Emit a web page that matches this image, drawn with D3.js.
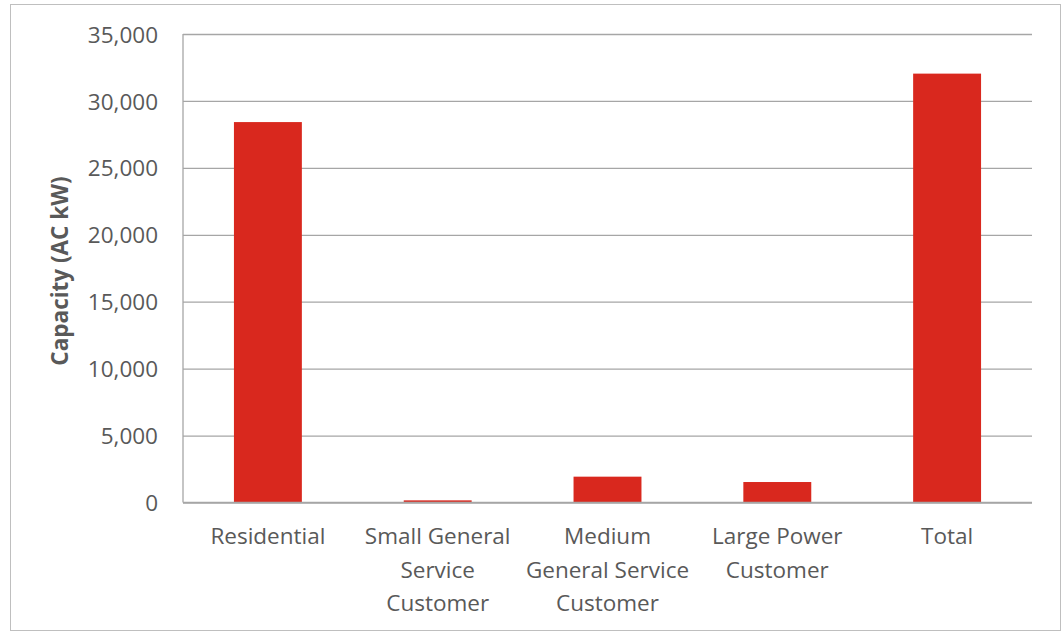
<!DOCTYPE html>
<html>
<head>
<meta charset="utf-8">
<script src="https://cdn.jsdelivr.net/npm/d3@7"></script>
<style>
  html, body { margin: 0; padding: 0; background: #fff; }
  svg { display: block; }
</style>
</head>
<body>
<svg id="chart" width="1061" height="631"></svg>
<script>
// Installed solar capacity by customer class
const categories = [
  ["Residential"],
  ["Small General", "Service", "Customer"],
  ["Medium", "General Service", "Customer"],
  ["Large Power", "Customer"],
  ["Total"]
];
const capacity = [28420, 160, 1930, 1530, 32040];
const yTicks = [0, 5000, 10000, 15000, 20000, 25000, 30000, 35000];
const yTitle = "Capacity (AC kW)";

const W = 1061, H = 631;
const plot = { left: 183, right: 1032, top: 34, bottom: 502.5 };
const textColor = "#595959";
const gridColor = "#a6a6a6";
const barColor = "#d9281e";
const font = "'Open Sans', sans-serif";
const fontSize = "22.5px";

const svg = d3.select("#chart");

// Outer chart frame
svg.append("rect")
  .attr("x", 10.5).attr("y", 4.5)
  .attr("width", W - 11).attr("height", H - 5)
  .attr("fill", "#fff").attr("stroke", "#bfbfbf").attr("stroke-width", 1);

const x = d3.scaleBand()
  .domain(d3.range(categories.length))
  .range([plot.left, plot.right])
  .paddingInner(0.6).paddingOuter(0.3);

const y = d3.scaleLinear()
  .domain([0, 35000])
  .range([plot.bottom, plot.top]);

// Horizontal gridlines and value labels
const yAxis = d3.axisLeft(y)
  .tickValues(yTicks)
  .tickSize(-(plot.right - plot.left))
  .tickPadding(25)
  .tickFormat(d3.format(","));

const gy = svg.append("g")
  .attr("transform", `translate(${plot.left},0)`)
  .call(yAxis);
gy.select(".domain").remove();
gy.selectAll(".tick line")
  .attr("stroke", gridColor).attr("stroke-width", 1.3);
gy.selectAll(".tick text")
  .attr("fill", textColor)
  .attr("dy", "0.36em")
  .style("font-family", font).style("font-size", fontSize);

// Left axis line
svg.append("line")
  .attr("x1", plot.left).attr("x2", plot.left)
  .attr("y1", plot.top).attr("y2", plot.bottom)
  .attr("stroke", gridColor).attr("stroke-width", 1.3);

// Bars
svg.append("g").selectAll("rect")
  .data(capacity)
  .join("rect")
  .attr("x", (d, i) => x(i))
  .attr("width", x.bandwidth())
  .attr("y", d => y(d))
  .attr("height", d => y(0) - y(d))
  .attr("fill", barColor);

// Baseline drawn over the bars
svg.append("line")
  .attr("x1", plot.left).attr("x2", plot.right)
  .attr("y1", y(0)).attr("y2", y(0))
  .attr("stroke", gridColor).attr("stroke-width", 1.3);

// Category labels (multi-line)
const lineH = 33.5;
const labels = svg.append("g").selectAll("text")
  .data(categories)
  .join("text")
  .attr("x", (d, i) => x(i) + x.bandwidth() / 2)
  .attr("y", 544)
  .attr("text-anchor", "middle")
  .attr("fill", textColor)
  .style("font-family", font).style("font-size", fontSize);
labels.selectAll("tspan")
  .data(d => d)
  .join("tspan")
  .attr("x", function () { return this.parentNode.getAttribute("x"); })
  .attr("dy", (d, i) => i === 0 ? 0 : lineH)
  .text(d => d);

// Y axis title
svg.append("text")
  .attr("transform", `translate(68,271) rotate(-90)`)
  .attr("text-anchor", "middle")
  .attr("fill", textColor)
  .style("font-family", font).style("font-size", fontSize).style("font-weight", "bold")
  .text(yTitle);
</script>
</body>
</html>
